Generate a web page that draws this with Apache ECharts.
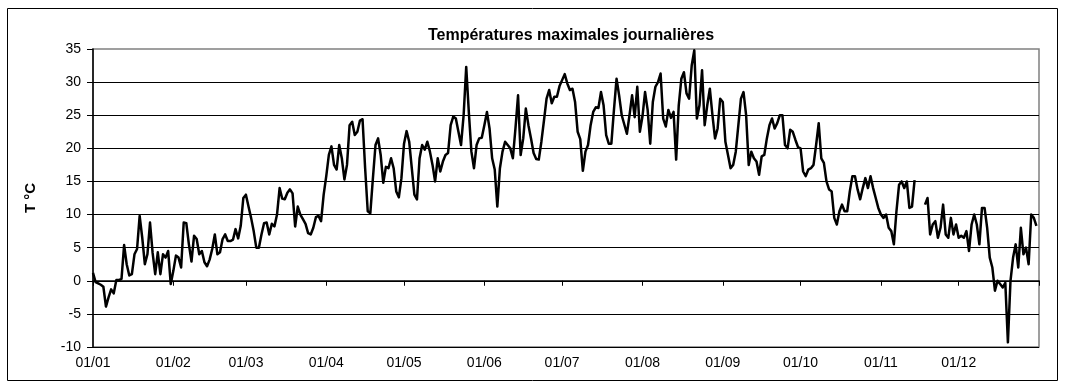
<!DOCTYPE html>
<html>
<head>
<meta charset="utf-8">
<script src="https://cdn.jsdelivr.net/npm/echarts@6/dist/echarts.min.js"></script>
<style>
html,body{margin:0;padding:0;background:#fff;}
#chart{width:1066px;height:385px;}
</style>
</head>
<body>
<div id="chart"></div>
<script>
// Daily maximum temperatures (°C), one array per month
const tempJan = [1.2,-0.2,-0.4,-0.6,-0.9,-3.9,-2.5,-1.3,-1.9,0.1,0.1,0.3,5.4,2.5,0.8,1.0,4.0,4.8,9.8,6.5,2.5,4.0,8.8,4.2,1.0,4.3,1.0,4.0,3.5,4.5,-0.5];
const tempFeb = [1.5,3.8,3.5,2.0,8.8,8.7,5.5,2.9,6.8,6.3,4.0,4.5,2.8,2.2,3.2,4.8,7.0,4.0,4.3,6.3,7.0,6.0,6.0,6.2,7.8,6.4,8.3,12.5];
const tempMar = [13.0,11.2,9.5,7.5,5.0,5.0,7.0,8.7,8.8,7.0,8.6,8.2,10.0,14.0,12.4,12.3,13.3,13.8,13.2,8.2,11.2,10.0,9.3,8.6,7.2,7.0,8.0,9.6,9.8,9.0,13.0];
const tempApr = [15.8,19.0,20.3,17.5,16.8,20.5,18.5,15.3,17.5,23.5,24.0,22.0,22.5,24.2,24.4,17.0,10.5,10.2,15.5,20.5,21.5,19.0,14.8,17.2,17.0,18.5,17.0,13.5,12.6,15.5];
const tempMay = [20.7,22.6,21.0,17.0,13.0,12.3,18.5,20.5,19.8,21.0,19.5,17.5,15.0,18.5,16.5,18.0,19.0,19.3,23.5,24.8,24.5,22.5,20.5,25.0,32.3,25.5,19.5,17.0,20.5,21.5,21.6];
const tempJun = [23.5,25.5,23.0,18.5,16.8,11.2,17.0,19.5,21.0,20.5,20.0,18.5,23.0,28.0,19.0,21.5,26.0,23.5,21.5,19.3,18.4,18.3,21.0,24.2,27.5,28.8,26.8,27.8,27.8,29.4];
const tempJul = [30.3,31.2,29.8,28.8,29.0,27.0,22.5,21.4,16.6,19.5,20.5,23.5,25.5,26.2,26.1,28.5,26.5,22.0,20.7,20.7,25.8,30.5,28.0,25.0,23.6,22.2,25.0,28.0,24.7,29.3,22.5];
const tempAug = [24.8,28.5,25.8,20.7,27.0,29.3,30.0,31.3,24.5,23.3,25.8,24.6,25.5,18.3,26.5,30.5,31.5,28.3,27.5,32.5,34.8,24.5,26.5,31.8,23.5,26.5,29.0,25.0,21.5,23.0,27.5];
const tempSep = [27.0,21.0,19.0,17.0,17.5,19.5,23.5,27.5,28.5,25.0,17.5,19.5,18.5,18.0,16.0,18.8,19.0,21.5,23.5,24.5,23.0,23.8,25.0,25.0,20.5,20.0,22.8,22.5,21.3,20.2];
const tempOct = [20.0,16.5,15.8,16.8,17.0,17.5,20.5,23.8,18.5,17.8,15.0,13.8,13.5,9.5,8.5,10.5,11.5,10.5,10.5,13.5,15.8,15.8,13.8,12.3,14.0,15.5,14.0,15.8,14.0,12.5,11.0];
const tempNov = [10.0,9.5,10.0,8.0,7.5,5.5,10.5,14.5,15.0,14.0,15.0,11.0,11.2,15.2,null,null,null,11.5,12.5,7.0,8.5,9.0,6.5,8.0,11.5,7.0,6.5,9.5,7.0,8.5];
const tempDec = [6.5,6.8,6.5,7.5,4.5,8.5,10.0,8.5,5.5,11.0,11.0,8.0,3.5,2.0,-1.5,0.0,-0.5,-1.0,-0.3,-9.3,0.0,3.5,5.5,2.0,8.0,4.0,5.0,2.5,10.0,9.5,8.3];

const monthLengths = [31,28,31,30,31,30,31,31,30,31,30,31];
const titleText = 'Températures maximales journalières';
const yName = 'T °C';
const yMin = -10, yMax = 35, yStep = 5;

// category labels dd/mm for every day, plus closing 01/01
const days = [];
const monthStart = new Set();
monthLengths.forEach((len, m) => {
  for (let d = 1; d <= len; d++) {
    if (d === 1) monthStart.add(days.length);
    days.push(String(d).padStart(2,'0') + '/' + String(m+1).padStart(2,'0'));
  }
});
const endIndex = days.length;
days.push('01/01');

const values = [].concat(tempJan,tempFeb,tempMar,tempApr,tempMay,tempJun,tempJul,tempAug,tempSep,tempOct,tempNov,tempDec);

const chart = echarts.init(document.getElementById('chart'), null, {renderer:'canvas'});
const font = 'Liberation Sans, Arial, sans-serif';
chart.setOption({
  animation: false,
  backgroundColor: '#fff',
  title: {
    text: titleText,
    left: 566,
    top: 23,
    textAlign: 'center',
    textStyle: {fontFamily: font, fontSize: 16, fontWeight: 'bold', color: '#000'}
  },
  graphic: [{
    type: 'rect',
    shape: {x: 7.5, y: 8.5, width: 1050, height: 372},
    style: {fill: 'none', stroke: '#000', lineWidth: 1},
    silent: true
  }],
  grid: {
    left: 93, right: 27, top: 49, bottom: 38,
    show: true, borderColor: '#808080', borderWidth: 1.5, backgroundColor: '#fff'
  },
  xAxis: {
    type: 'category',
    data: days,
    boundaryGap: false,
    axisLine: {lineStyle: {color: '#000', width: 1.5}},
    axisTick: {
      length: 5,
      lineStyle: {color: '#000', width: 1},
      interval: (i) => monthStart.has(i) || i === endIndex
    },
    axisLabel: {
      interval: (i) => monthStart.has(i),
      color: '#000', fontFamily: font, fontSize: 14, margin: 9
    },
    splitLine: {show: false}
  },
  yAxis: {
    type: 'value',
    min: yMin, max: yMax, interval: yStep,
    name: yName,
    nameLocation: 'middle',
    nameGap: 55,
    nameRotate: 90,
    nameTextStyle: {fontFamily: font, fontSize: 15, fontWeight: 'bold', color: '#000'},
    axisLine: {show: true, lineStyle: {color: '#000', width: 1.5}},
    axisTick: {show: true, length: 6, lineStyle: {color: '#000'}},
    axisLabel: {color: '#000', fontFamily: font, fontSize: 14, margin: 12},
    splitLine: {show: true, showMaxLine: false, lineStyle: {color: '#000', width: 1}}
  },
  series: [{
    type: 'line',
    data: values,
    showSymbol: false,
    symbol: 'none',
    connectNulls: false,
    lineStyle: {color: '#000', width: 2.5, join: 'round'},
    z: 5
  }]
});
</script>
</body>
</html>
